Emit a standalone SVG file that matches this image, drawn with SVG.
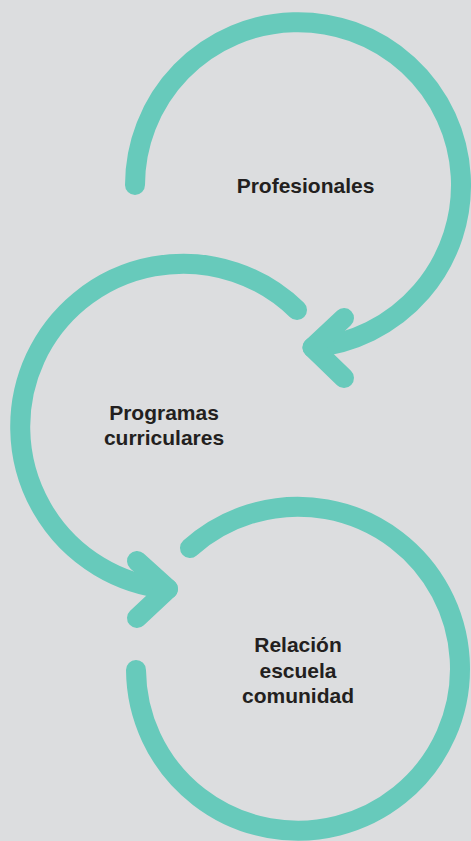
<svg xmlns="http://www.w3.org/2000/svg" width="471" height="841" viewBox="0 0 471 841">
  <style>
    .loop { fill: none; stroke: #67cabb; stroke-width: 20; stroke-linecap: round; stroke-linejoin: round; }
    .label { font-family: "Liberation Sans", Arial, sans-serif; font-weight: bold; font-size: 21px; fill: #231f20; text-anchor: middle; }
  </style>
  <rect width="471" height="841" fill="#dcdddf"/>

  <g id="connectors">
    <!-- loop around "Profesionales", ending in a left-pointing head -->
    <path class="loop" d="M135,185 A163,163 0 1 1 312.5,347.5"/>
    <path class="loop" d="M344,318 L312.5,347.5 L344,378"/>
    <!-- loop around "Programas curriculares", ending in a right-pointing head -->
    <path class="loop" d="M297,310 A163,163 0 1 0 168,589"/>
    <path class="loop" d="M137,561 L168,589 L137,618"/>
    <!-- open ring around "Relación escuela comunidad" -->
    <path class="loop" d="M190,548 A162,162 0 1 1 136,670"/>
  </g>

  <g id="profesionales">
    <text class="label" x="305.5" y="193">Profesionales</text>
  </g>
  <g id="programas-curriculares">
    <text class="label" x="164" y="420">Programas</text>
    <text class="label" x="164" y="445">curriculares</text>
  </g>
  <g id="relacion-escuela-comunidad">
    <text class="label" x="298" y="652">Relación</text>
    <text class="label" x="298" y="678">escuela</text>
    <text class="label" x="298" y="703">comunidad</text>
  </g>
</svg>
